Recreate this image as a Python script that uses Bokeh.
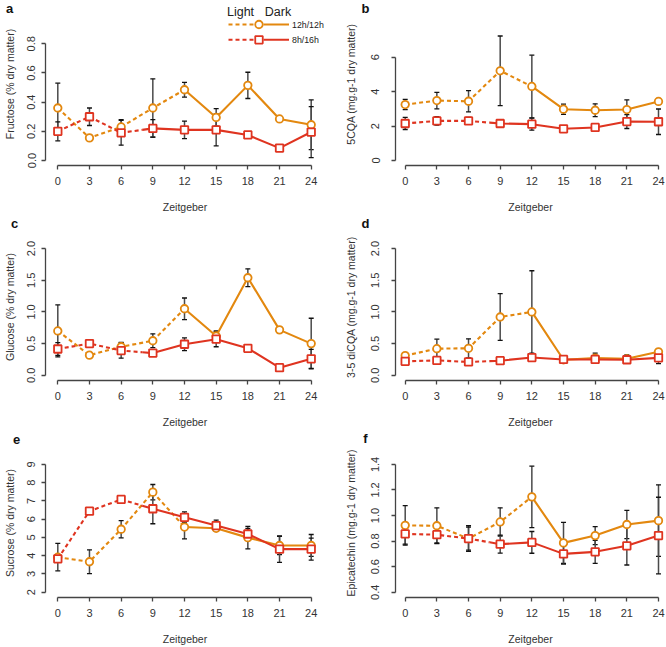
import numpy as np
from bokeh.plotting import figure
from bokeh.models import ColumnDataSource, Whisker, TeeHead, FixedTicker, Label, Range1d
from bokeh.layouts import gridplot
from bokeh.embed import file_html
from bokeh.resources import INLINE

# ---------------- data ----------------
zeitgeber = [0, 3, 6, 9, 12, 15, 18, 21, 24]
x_tick_labels = ["0", "3", "6", "9", "12", "15", "18", "21", "24"]
series_names = ["12h/12h", "8h/16h"]
legend_header = ["Light", "Dark"]

# a  Fructose (% dry matter)
fru_12 = [0.36, 0.155, 0.23, 0.36, 0.485, 0.295, 0.515, 0.285, 0.245]
fru_12_err = [0.17, 0.01, 0.05, 0.20, 0.05, 0.06, 0.09, 0.01, 0.17]
fru_8 = [0.20, 0.30, 0.19, 0.22, 0.21, 0.21, 0.175, 0.085, 0.195]
fru_8_err = [0.065, 0.06, 0.085, 0.06, 0.06, 0.11, 0.01, 0.02, 0.175]
fru_ticks = [0.0, 0.2, 0.4, 0.6, 0.8]
fru_tick_labels = ["0.0", "0.2", "0.4", "0.6", "0.8"]

# b  5CQA (mg.g-1 dry matter)
cqa_12 = [3.25, 3.48, 3.44, 5.21, 4.30, 2.98, 2.92, 2.96, 3.43]
cqa_12_err = [0.30, 0.48, 0.62, 2.02, 1.82, 0.30, 0.37, 0.56, 0.15]
cqa_8 = [2.15, 2.30, 2.30, 2.15, 2.11, 1.84, 1.92, 2.26, 2.25]
cqa_8_err = [0.35, 0.25, 0.20, 0.10, 0.35, 0.10, 0.15, 0.40, 0.74]
cqa_ticks = [0, 2, 4, 6]
cqa_tick_labels = ["0", "2", "4", "6"]

# c  Glucose (% dry matter)
glu_12 = [0.70, 0.317, 0.45, 0.545, 1.05, 0.62, 1.54, 0.717, 0.50]
glu_12_err = [0.41, 0.03, 0.07, 0.11, 0.17, 0.08, 0.14, 0.05, 0.40]
glu_8 = [0.415, 0.50, 0.39, 0.35, 0.49, 0.57, 0.426, 0.12, 0.26]
glu_8_err = [0.10, 0.02, 0.12, 0.03, 0.10, 0.12, 0.02, 0.04, 0.15]
glu_ticks = [0.0, 0.5, 1.0, 1.5, 2.0]
glu_tick_labels = ["0.0", "0.5", "1.0", "1.5", "2.0"]

# d  3-5 diCQA (mg.g-1 dry matter)
dic_12 = [0.31, 0.42, 0.426, 0.92, 1.0, 0.245, 0.27, 0.26, 0.37]
dic_12_err = [0.04, 0.15, 0.15, 0.37, 0.65, 0.04, 0.08, 0.06, 0.03]
dic_8 = [0.22, 0.235, 0.21, 0.23, 0.28, 0.25, 0.25, 0.245, 0.275]
dic_8_err = [0.05, 0.03, 0.02, 0.02, 0.04, 0.04, 0.05, 0.04, 0.09]
dic_ticks = [0.0, 0.5, 1.0, 1.5, 2.0]
dic_tick_labels = ["0.0", "0.5", "1.0", "1.5", "2.0"]

# e  Sucrose (% dry matter)
suc_12 = [3.92, 3.67, 5.45, 7.48, 5.57, 5.50, 4.99, 4.56, 4.56]
suc_12_err = [0.75, 0.65, 0.47, 0.42, 0.65, 0.10, 0.62, 0.50, 0.60]
suc_8 = [3.83, 6.44, 7.08, 6.57, 6.10, 5.65, 5.19, 4.36, 4.36]
suc_8_err = [0.20, 0.08, 0.12, 0.82, 0.30, 0.30, 0.30, 0.72, 0.60]
suc_ticks = [2, 3, 4, 5, 6, 7, 8, 9]
suc_tick_labels = ["2", "3", "4", "5", "6", "7", "8", "9"]

# f  Epicatechin (mg.g-1 dry matter)
epi_12 = [0.923, 0.92, 0.82, 0.95, 1.146, 0.786, 0.843, 0.93, 0.96]
epi_12_err = [0.155, 0.14, 0.10, 0.11, 0.24, 0.16, 0.07, 0.11, 0.28]
epi_8 = [0.856, 0.85, 0.82, 0.776, 0.79, 0.70, 0.716, 0.763, 0.843]
epi_8_err = [0.08, 0.065, 0.09, 0.07, 0.085, 0.08, 0.09, 0.15, 0.30]
epi_ticks = [0.4, 0.6, 0.8, 1.0, 1.2, 1.4]
epi_tick_labels = ["0.4", "0.6", "0.8", "1.0", "1.2", "1.4"]

light_end_12 = 12   # light period of 12h/12h
light_end_8 = 8     # light period of 8h/16h

# ---------------- style / layout ----------------
ORANGE = "#E3880F"
RED = "#DF3420"
AXIS_C = "#444444"
TEXT_C = "#333333"
FONT = "Liberation Sans"
COL_W = 333
ROW_H = [215, 215, 217]


def px_to_val(px, v0, p0, v1, p1):
    return v0 + (px - p0) * (v1 - v0) / (p1 - p0)


# Panel letters are Labels placed in a side panel (so they are not clipped to the frame):
# column 0 -> right side panel, column 1 -> left side panel.
panels = [
    dict(letter="a", row=0, col=0, ylabel="Fructose (% dry matter)", y12=fru_12, e12=fru_12_err,
         y8=fru_8, e8=fru_8_err, ticks=fru_ticks, tlabels=fru_tick_labels,
         L=45, R=324, T=2, B=165, xmap=(57.3, 310.7), ymap=(0.0, 160.0, 0.8, 43.3), lpos=(9, 8)),
    dict(letter="b", row=0, col=1, ylabel="5CQA (mg.g-1 dry matter)", y12=cqa_12, e12=cqa_12_err,
         y8=cqa_8, e8=cqa_8_err, ticks=cqa_ticks, tlabels=cqa_tick_labels,
         L=62, R=332, T=2, B=165, xmap=(71.7, 325.0), ymap=(0.0, 160.0, 6.0, 56.7), lpos=(32, 8)),
    dict(letter="c", row=1, col=0, ylabel="Glucose (% dry matter)", y12=glu_12, e12=glu_12_err,
         y8=glu_8, e8=glu_8_err, ticks=glu_ticks, tlabels=glu_tick_labels,
         L=45, R=324, T=18, B=167, xmap=(57.3, 310.7), ymap=(0.0, 161.7, 2.0, 33.3), lpos=(14, 8)),
    dict(letter="d", row=1, col=1, ylabel="3-5 diCQA (mg.g-1 dry matter)", y12=dic_12, e12=dic_12_err,
         y8=dic_8, e8=dic_8_err, ticks=dic_ticks, tlabels=dic_tick_labels,
         L=62, R=332, T=18, B=167, xmap=(71.7, 325.0), ymap=(0.0, 161.7, 2.0, 33.3), lpos=(32, 8)),
    dict(letter="e", row=2, col=0, ylabel="Sucrose (% dry matter)", y12=suc_12, e12=suc_12_err,
         y8=suc_8, e8=suc_8_err, ticks=suc_ticks, tlabels=suc_tick_labels,
         L=45, R=324, T=18, B=168, xmap=(57.3, 310.7), ymap=(2.0, 162.7, 9.0, 34.0), lpos=(16, 9)),
    dict(letter="f", row=2, col=1, ylabel="Epicatechin (mg.g-1 dry matter)", y12=epi_12, e12=epi_12_err,
         y8=epi_8, e8=epi_8_err, ticks=epi_ticks, tlabels=epi_tick_labels,
         L=62, R=332, T=18, B=168, xmap=(71.7, 325.0), ymap=(0.4, 162.7, 1.4, 34.0), lpos=(32, 8)),
]


def build(cfg):
    fw, fh = COL_W, ROW_H[cfg["row"]]
    L, R, T, B = cfg["L"], cfg["R"], cfg["T"], cfg["B"]
    x0p, x24p = cfg["xmap"]
    v0, p0, v1, p1 = cfg["ymap"]
    fx = lambda px: px_to_val(px, 0, x0p, 24, x24p)
    fy = lambda py: px_to_val(py, v0, p0, v1, p1)

    p = figure(width=fw, height=fh, output_backend="svg", toolbar_location=None,
               x_range=Range1d(fx(L), fx(R)), y_range=Range1d(fy(B), fy(T)),
               min_border_left=L, min_border_right=fw - R, min_border_top=T,
               min_border_bottom=fh - B)
    p.title.visible = False
    p.xgrid.visible = False
    p.ygrid.visible = False
    p.outline_line_color = None
    p.background_fill_color = "white"
    p.border_fill_color = "white"

    for ax in (p.xaxis[0], p.yaxis[0]):
        ax.axis_line_color = AXIS_C
        ax.axis_line_width = 1.3
        ax.major_tick_line_color = AXIS_C
        ax.major_tick_line_width = 1.3
        ax.major_tick_out = 4
        ax.major_tick_in = 0
        ax.minor_tick_out = 0
        ax.minor_tick_in = 0
        ax.major_label_text_font = FONT
        ax.major_label_text_font_size = "11px"
        ax.major_label_text_color = TEXT_C
        ax.axis_label_text_font = FONT
        ax.axis_label_text_font_size = "10.5px"
        ax.axis_label_text_font_style = "normal"
        ax.axis_label_text_color = TEXT_C

    xa = p.xaxis[0]
    xa.ticker = FixedTicker(ticks=zeitgeber)
    xa.major_label_overrides = {t: l for t, l in zip(zeitgeber, x_tick_labels)}
    xa.bounds = (zeitgeber[0], zeitgeber[-1])
    xa.axis_label = "Zeitgeber"
    xa.major_label_standoff = 7
    xa.axis_label_standoff = 13

    ya = p.yaxis[0]
    ya.ticker = FixedTicker(ticks=cfg["ticks"])
    ya.major_label_overrides = {t: l for t, l in zip(cfg["ticks"], cfg["tlabels"])}
    ya.bounds = (cfg["ticks"][0], cfg["ticks"][-1])
    ya.axis_label = cfg["ylabel"]
    ya.major_label_orientation = "vertical"
    if cfg["col"] == 0:
        ya.major_label_standoff = 6
        ya.axis_label_standoff = 9
    else:
        ya.major_label_standoff = 12
        ya.axis_label_standoff = 12

    # panel letter
    lx, ly = cfg["lpos"]
    p.add_layout(Label(x=fx(lx), y=fy(ly), text=cfg["letter"], text_align="center",
                       text_baseline="middle", text_font=FONT, text_font_size="13px",
                       text_font_style="bold", text_color="#111111"),
                 "right" if cfg["col"] == 0 else "left")

    zt = np.array(zeitgeber, dtype=float)
    for vals, errs, color, marker, light_end in (
        (cfg["y12"], cfg["e12"], ORANGE, "circle", light_end_12),
        (cfg["y8"], cfg["e8"], RED, "square", light_end_8),
    ):
        v = np.array(vals, dtype=float)
        split_y = float(np.interp(light_end, zt, v))
        lxs = list(zt[zt < light_end]) + [light_end]
        lys = list(v[zt < light_end]) + [split_y]
        dxs = [light_end] + list(zt[zt > light_end])
        dys = [split_y] + list(v[zt > light_end])
        p.line(lxs, lys, line_color=color, line_width=2.1, line_dash="4 3")
        p.line(dxs, dys, line_color=color, line_width=2.1)
        p.scatter(zeitgeber, vals, marker=marker, size=7.5, line_color=color, line_width=1.8,
                  fill_color="white")
        e = np.array(errs, dtype=float)
        src = ColumnDataSource(dict(x=zeitgeber, upper=list(v + e), lower=list(v - e)))
        p.add_layout(Whisker(source=src, base="x", upper="upper", lower="lower",
                             line_color="#4a4a4a", line_width=1.5,
                             upper_head=TeeHead(size=5, line_color="#111111", line_width=1.3),
                             lower_head=TeeHead(size=5, line_color="#111111", line_width=1.3)))

    if cfg["letter"] == "a":
        # legend drawn inside panel a
        for txt, cx in zip(legend_header, (240, 277.5)):
            p.add_layout(Label(x=fx(cx), y=fy(11.7), text=txt, text_align="center",
                               text_baseline="middle", text_font=FONT, text_font_size="12.5px",
                               text_color="#222222"))
        for name, color, marker, ry in zip(series_names, (ORANGE, RED), ("circle", "square"),
                                           (24.0, 39.3)):
            yv = fy(ry)
            p.line([fx(228), fx(254)], [yv, yv], line_color=color, line_width=2.1, line_dash="4 3")
            p.scatter([fx(258.5)], [yv], marker=marker, size=7.5, line_color=color, line_width=1.8,
                      fill_color="white")
            p.line([fx(263), fx(288.5)], [yv, yv], line_color=color, line_width=2.1)
            p.add_layout(Label(x=fx(291.5), y=yv, text=name, text_align="left",
                               text_baseline="middle", text_font=FONT, text_font_size="8.8px",
                               text_color="#222222"))
    return p


figs = {c["letter"]: build(c) for c in panels}
grid = gridplot([[figs["a"], figs["b"]], [figs["c"], figs["d"]], [figs["e"], figs["f"]]],
                toolbar_location=None)

open("out.html", "w").write(file_html(grid, INLINE))
